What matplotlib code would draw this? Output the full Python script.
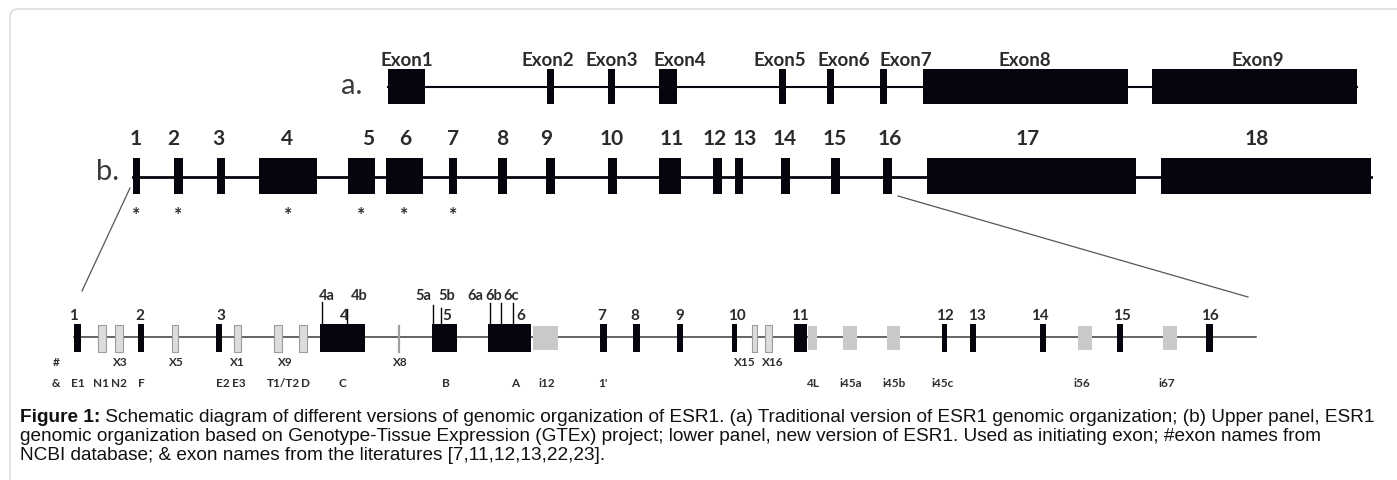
#!/usr/bin/env python3
"""
ESR1 genomic organization schematic - traditional, GTEx-based and new exon layouts
"""

import matplotlib.pyplot as plt
from matplotlib.patches import Rectangle, FancyBboxPatch

# ---- (a) traditional organization ----
a_names = ['Exon1', 'Exon2', 'Exon3', 'Exon4', 'Exon5', 'Exon6', 'Exon7', 'Exon8', 'Exon9']
a_start = [388, 547, 608, 659, 779, 827, 880, 923, 1152]
a_end = [425, 554, 615, 677, 786, 834, 887, 1128, 1357]
a_label_x = [407, 548, 612, 680, 780, 844, 906, 1025, 1258]

# ---- (b) GTEx-based organization ----
b_names = [str(i) for i in range(1, 19)]
b_start = [133, 174, 217, 259, 348, 386, 449, 498, 546, 608, 659, 713, 735, 781, 831, 883, 927, 1161]
b_end = [140, 183, 225, 317, 375, 423, 457, 507, 555, 617, 681, 722, 743, 790, 840, 892, 1136, 1371]
b_label_x = [136, 173, 218, 287, 368, 405, 453, 502, 546, 612, 672, 715, 745, 785, 835, 890, 1028, 1257]
b_initiating = ['1', '2', '4', '5', '6', '7']

# ---- new version (lower panel) ----
n_names = [str(i) for i in range(1, 17)]
n_start = [74, 138, 216, 320, 432, 488, 600, 633, 677, 732, 794, 942, 970, 1040, 1117, 1206]
n_end = [81, 144, 222, 365, 457, 531, 607, 640, 683, 737, 807, 947, 976, 1046, 1123, 1213]
n_label_x = [73, 140, 221, 344, 447, 521, 602, 635, 680, 737, 800, 945, 977, 1040, 1122, 1210]

# exons reported in NCBI (outlined grey)
ncbi_start = [98, 115, 172, 234, 274, 299, 752, 765]
ncbi_end = [106, 123, 178, 241, 282, 307, 757, 772]
x8_pos = 399

# intronic exons (solid grey)
intr_start = [533, 808, 843, 887, 1078, 1163]
intr_end = [558, 817, 857, 900, 1092, 1177]

# alternative splice sites inside exons 4, 5, 6
alt_names = ['4a', '4b', '5a', '5b', '6a', '6b', '6c']
alt_pos = [322, 347, 433, 441, 490, 501, 513]
alt_top = [303, 310, 306, 309, 304, 304, 304]
alt_label_x = [327, 359, 423, 447, 475, 494, 511]

# exon names: NCBI (#) row and literature (&) row
ncbi_names = ['#', 'X3', 'X5', 'X1', 'X9', 'X8', 'X15', 'X16']
ncbi_label_x = [56, 120, 176, 237, 285, 400, 745, 773]
lit_names = ['&', 'E1', 'N1', 'N2', 'F', 'E2', 'E3', 'T1/T2', 'D', 'C', 'B', 'A', 'i12', "1'",
             '4L', 'i45a', 'i45b', 'i45c', 'i56', 'i67']
lit_label_x = [56, 78, 101, 119, 141, 223, 239, 283, 306, 342, 446, 515, 547, 603,
               813, 851, 894, 943, 1082, 1167]

caption = [
    ("Figure 1:", " Schematic diagram of different versions of genomic organization of ESR1. (a) Traditional "
                  "version of ESR1 genomic organization; (b) Upper panel, ESR1"),
    ("", "genomic organization based on Genotype-Tissue Expression (GTEx) project; lower panel, new version "
         "of ESR1. Used as initiating exon; #exon names from"),
    ("", "NCBI database; & exon names from the literatures [7,11,12,13,22,23]."),
]

EXON = '#05060d'
TXT = '#2b2b2b'
LBL = 'Lato'
CAP = 'Liberation Sans'


def exon_row(ax, starts, ends, y0, y1, **kw):
    for s, e in zip(starts, ends):
        ax.add_patch(Rectangle((s, y0), e - s, y1 - y0, **kw))


def main():
    fig = plt.figure(figsize=(13.97, 4.81), dpi=100)
    ax = fig.add_axes([0, 0, 1, 1])
    ax.set_xlim(0, 1397)
    ax.set_ylim(481, 0)
    ax.axis('off')

    # rounded frame
    ax.add_patch(FancyBboxPatch((10, 10), 1400, 500, boxstyle='round,pad=0,rounding_size=8',
                                fc='none', ec='#d6d6d6', lw=1.0))

    # (a)
    ax.plot([a_start[0], a_end[-1]], [88, 88], color=EXON, lw=1.5, zorder=1)
    exon_row(ax, a_start, a_end, 70, 105, fc=EXON, ec='none', zorder=2)
    for name, x in zip(a_names, a_label_x):
        ax.text(x, 61, name, ha='center', va='center', fontsize=13.5, family=LBL,
                fontweight='bold', color=TXT)
    ax.text(352, 86, 'a.', ha='center', va='center', fontsize=21, family=LBL, color='#3a3a3a')

    # (b)
    ax.plot([b_start[0], b_end[-1]], [178, 178], color=EXON, lw=2.0, zorder=1)
    exon_row(ax, b_start, b_end, 159, 195, fc=EXON, ec='none', zorder=2)
    for name, x in zip(b_names, b_label_x):
        ax.text(x, 139, name, ha='center', va='center', fontsize=15, family=LBL,
                fontweight='bold', color=TXT)
    for name in b_initiating:
        i = b_names.index(name)
        ax.text((b_start[i] + b_end[i]) / 2, 216, '*', ha='center', va='center', fontsize=14,
                family=LBL, fontweight='bold', color=TXT)
    ax.text(108, 172, 'b.', ha='center', va='center', fontsize=21, family=LBL, color='#3a3a3a')

    # zoom lines from (b) exons 1..16 to the new version
    ax.plot([130, 82], [189, 292], color='#555555', lw=0.9)
    ax.plot([898, 1248], [197, 298], color='#555555', lw=0.9)

    # new version
    ax.plot([n_start[0], 1256], [338, 338], color='#3a3a3a', lw=1.1, zorder=1)
    exon_row(ax, intr_start, intr_end, 327, 351, fc='#c9c9c9', ec='none', zorder=2)
    exon_row(ax, ncbi_start, ncbi_end, 326, 353, fc='#dcdcdc', ec='#9c9c9c', lw=0.8, zorder=2)
    ax.plot([x8_pos, x8_pos], [327, 353], color='#a0a0a0', lw=1.6, zorder=2)
    exon_row(ax, n_start, n_end, 325, 353, fc=EXON, ec='none', zorder=3)
    for x, top in zip(alt_pos, alt_top):
        ax.plot([x, x], [top, 325], color=EXON, lw=1.0, zorder=3)
    for name, x in zip(alt_names, alt_label_x):
        ax.text(x, 296, name, ha='center', va='center', fontsize=10.5, family=LBL,
                fontweight='bold', color=TXT)
    for name, x in zip(n_names, n_label_x):
        ax.text(x, 316, name, ha='center', va='center', fontsize=11, family=LBL,
                fontweight='bold', color=TXT)
    for name, x in zip(ncbi_names, ncbi_label_x):
        ax.text(x, 363, name, ha='center', va='center', fontsize=8.5, family=LBL,
                fontweight='bold', color='#2e2e2e')
    for name, x in zip(lit_names, lit_label_x):
        ax.text(x, 384, name, ha='center', va='center', fontsize=8.5, family=LBL,
                fontweight='bold', color='#2e2e2e')

    # caption
    fig.canvas.draw()
    r = fig.canvas.get_renderer()
    for k, (head, body) in enumerate(caption):
        y = 418 + k * 19
        x = 20
        if head:
            t = ax.text(x, y, head, ha='left', va='center', fontsize=13.7, family=CAP,
                        fontweight='bold', color='#111111')
            bb = t.get_window_extent(renderer=r)
            x = ax.transData.inverted().transform((bb.x1, bb.y0))[0]
        ax.text(x, y, body, ha='left', va='center', fontsize=13.7, family=CAP, color='#111111')

    fig.savefig('out.png', dpi=100)
    plt.close(fig)


if __name__ == '__main__':
    main()
